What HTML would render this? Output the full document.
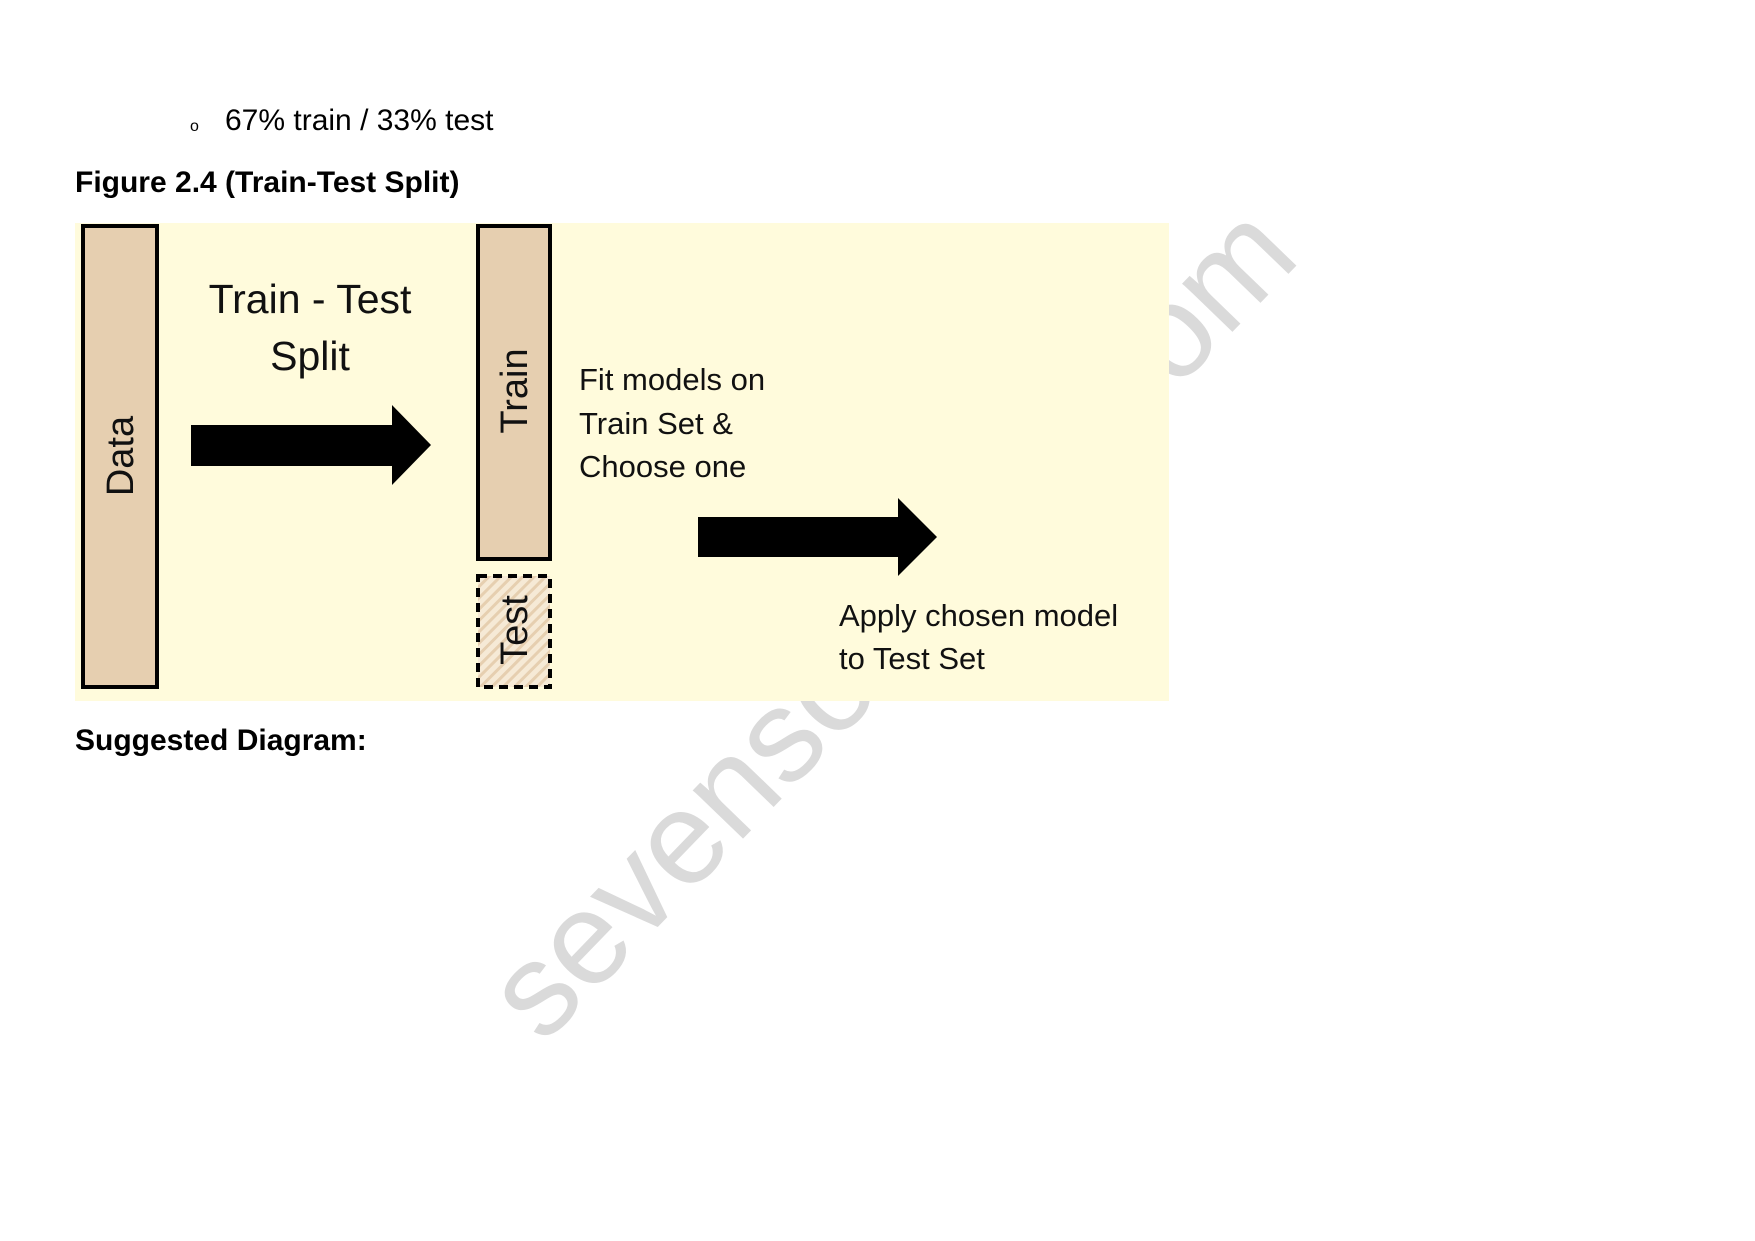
<!DOCTYPE html>
<html><head><style>
body{margin:0;width:1755px;height:1241px;background:#fff;position:relative;overflow:hidden;font-family:"Liberation Sans",sans-serif;}
.a{position:absolute;white-space:nowrap;}
.wm{position:absolute;left:890px;top:621px;transform:translate(-50%,-50%) rotate(-46deg);font-size:132px;color:#dadada;white-space:nowrap;}
</style></head><body>
<div class="wm">sevensolution.com</div>
<div class="a" style="left:190px;top:118px;font-size:16px;">o</div>
<div class="a" style="left:225px;top:104px;font-size:30px;">67% train / 33% test</div>
<div class="a" style="left:75px;top:166px;font-size:30px;font-weight:bold;">Figure 2.4 (Train-Test Split)</div>
<div class="a" style="left:75px;top:724px;font-size:30px;font-weight:bold;">Suggested Diagram:</div>
<svg class="a" style="left:0;top:0" width="1755" height="1241">
<defs><pattern id="h" width="8" height="8" patternUnits="userSpaceOnUse" patternTransform="rotate(45)"><rect width="8" height="8" fill="#f6ead6"/><rect width="3" height="8" fill="#e6cfb0"/></pattern></defs>
<rect x="75" y="223" width="1094" height="478" fill="#fffbdc"/>
<rect x="83" y="226" width="74" height="461" fill="#e6cfb0" stroke="#000" stroke-width="4"/>
<rect x="478" y="226" width="72" height="333" fill="#e6cfb0" stroke="#000" stroke-width="4"/>
<rect x="478" y="576" width="72" height="111" fill="url(#h)" stroke="#000" stroke-width="4" stroke-dasharray="9,6"/>
<polygon points="191,425 392,425 392,405 431,445 392,485 392,466 191,466" fill="#000"/>
<polygon points="698,517 898,517 898,498 937,537 898,576 898,557 698,557" fill="#000"/>
<g font-family="Liberation Sans,sans-serif" fill="#111">
<text x="310" y="313" font-size="41" text-anchor="middle">Train - Test</text>
<text x="310" y="370" font-size="41" text-anchor="middle">Split</text>
<text transform="translate(133,456) rotate(-90)" font-size="38" text-anchor="middle">Data</text>
<text transform="translate(527,391) rotate(-90)" font-size="38" text-anchor="middle">Train</text>
<text transform="translate(527,630) rotate(-90)" font-size="38" text-anchor="middle">Test</text>
<text x="579" y="390" font-size="31">Fit models on</text>
<text x="579" y="434" font-size="31">Train Set &amp;</text>
<text x="579" y="477" font-size="31">Choose one</text>
<text x="839" y="626" font-size="31">Apply chosen model</text>
<text x="839" y="669" font-size="31">to Test Set</text>
</g>
</svg>
</body></html>
